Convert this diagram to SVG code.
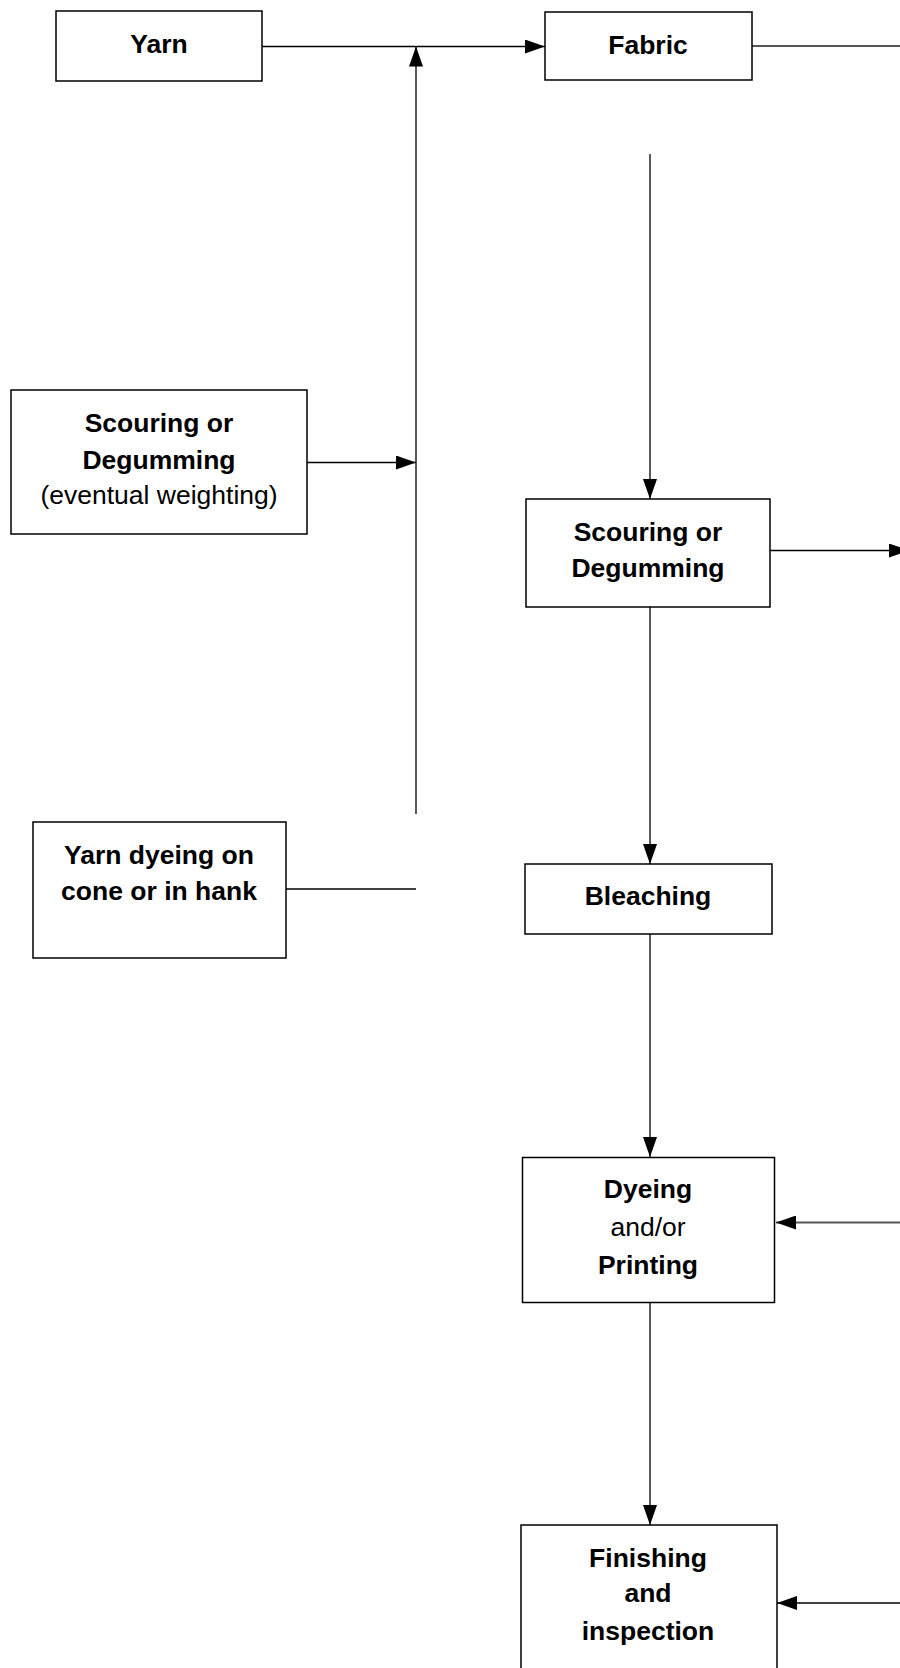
<svg xmlns="http://www.w3.org/2000/svg" width="900" height="1668" viewBox="0 0 900 1668">
<style>
.box{fill:#fff;stroke:#000;stroke-width:1.5}
.b{font-family:"Liberation Sans",Arial,sans-serif;font-size:26.5px;font-weight:bold;fill:#000;text-anchor:middle}
.r{font-family:"Liberation Sans",Arial,sans-serif;font-size:26.5px;fill:#000;text-anchor:middle}
.ln{stroke:#000;stroke-width:1.3;fill:none}
.gl{stroke:#555;stroke-width:2;fill:none}
</style>
<defs>
<marker id="ah" markerUnits="userSpaceOnUse" markerWidth="20" markerHeight="14" refX="20" refY="7" orient="auto">
<path d="M0,0 L20,7 L0,14 z" fill="#000"/>
</marker>
</defs>
<rect width="900" height="1668" fill="#fff"/>
<g id="connectors">
<line class="ln" x1="262" y1="46.5" x2="545" y2="46.5" marker-end="url(#ah)"/>
<line class="gl" x1="752" y1="46" x2="900" y2="46"/>
<line class="ln" x1="416" y1="814" x2="416" y2="46.5" marker-end="url(#ah)"/>
<line class="ln" x1="307" y1="462.5" x2="416" y2="462.5" marker-end="url(#ah)"/>
<line class="ln" x1="286" y1="889" x2="416" y2="889"/>
<line class="ln" x1="650" y1="154" x2="650" y2="499" marker-end="url(#ah)"/>
<line class="ln" x1="770" y1="550.5" x2="909" y2="550.5" marker-end="url(#ah)"/>
<line class="ln" x1="650" y1="607" x2="650" y2="864" marker-end="url(#ah)"/>
<line class="ln" x1="650" y1="934" x2="650" y2="1157" marker-end="url(#ah)"/>
<line class="gl" x1="900" y1="1222.5" x2="776" y2="1222.5" marker-end="url(#ah)"/>
<line class="ln" x1="650" y1="1302" x2="650" y2="1525" marker-end="url(#ah)"/>
<line class="ln" x1="900" y1="1603" x2="777" y2="1603" marker-end="url(#ah)"/>
</g>
<g id="yarn">
<rect class="box" x="56" y="11" width="206" height="70"/>
<text class="b" x="159" y="52.5">Yarn</text>
</g>
<g id="fabric">
<rect class="box" x="545" y="12" width="207" height="68"/>
<text class="b" x="648" y="53.5">Fabric</text>
</g>
<g id="scouring-yarn">
<rect class="box" x="11" y="390" width="296" height="144"/>
<text class="b" x="159" y="432">Scouring or</text>
<text class="b" x="159" y="468.5">Degumming</text>
<text class="r" x="159" y="503.5">(eventual weighting)</text>
</g>
<g id="yarn-dyeing">
<rect class="box" x="33" y="822" width="253" height="136"/>
<text class="b" x="159" y="863.5">Yarn dyeing on</text>
<text class="b" x="159" y="900">cone or in hank</text>
</g>
<g id="scouring-fabric">
<rect class="box" x="526" y="499" width="244" height="108"/>
<text class="b" x="648" y="540.5">Scouring or</text>
<text class="b" x="648" y="576.5">Degumming</text>
</g>
<g id="bleaching">
<rect class="box" x="525" y="864" width="247" height="70"/>
<text class="b" x="648" y="904.5">Bleaching</text>
</g>
<g id="dyeing">
<rect class="box" x="522.5" y="1157.5" width="252" height="145"/>
<text class="b" x="648" y="1197.5">Dyeing</text>
<text class="r" x="648" y="1235.5">and/or</text>
<text class="b" x="648" y="1273.5">Printing</text>
</g>
<g id="finishing">
<rect class="box" x="521" y="1525" width="256" height="160"/>
<text class="b" x="648" y="1566.5">Finishing</text>
<text class="b" x="648" y="1602">and</text>
<text class="b" x="648" y="1639.5">inspection</text>
</g>
</svg>
